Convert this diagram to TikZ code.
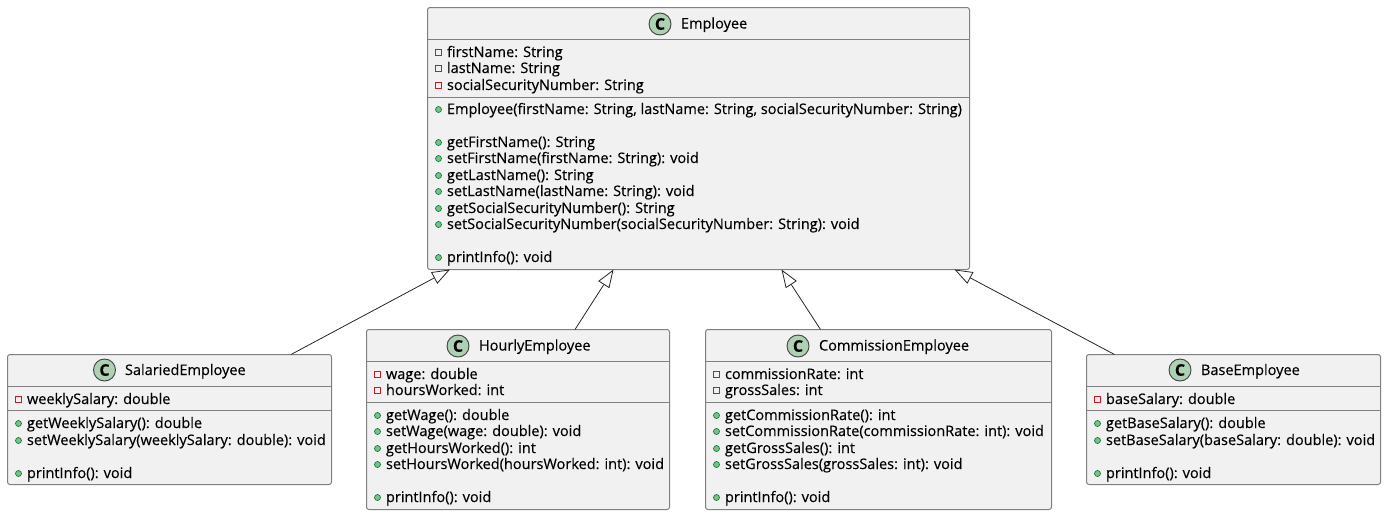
\documentclass[tikz,border=0pt]{standalone}
\usepackage{fontspec}
\setmainfont[RawFeature={embolden=0.35}]{Open Sans}
\usetikzlibrary{arrows.meta,calc}
\definecolor{boxfill}{HTML}{F1F1F1}
\definecolor{boxline}{HTML}{808080}
\definecolor{iconfill}{HTML}{ADD1B2}
\definecolor{pubfill}{HTML}{84BE84}
\definecolor{publine}{HTML}{038048}
\definecolor{privline}{HTML}{D01822}
\newcount\rowcnt
\tikzset{
  classbox/.style={draw=boxline,fill=boxfill,line width=1pt,rounded corners=2.5pt,inner sep=0pt,outer sep=0pt,rectangle},
  sepline/.style={draw=boxline,line width=1pt},
  member/.style={anchor=base west,inner sep=0pt,outer sep=0pt,font=\fontsize{14.52}{16}\selectfont,text=black},
  title/.style={anchor=base west,inner sep=0pt,outer sep=0pt,font=\fontsize{14.52}{16}\selectfont,text=black},
  cicon/.style={circle,draw=black!75,fill=iconfill,line width=0.9pt,minimum size=22pt,inner sep=0pt,outer sep=0pt,font=\fontsize{16}{16}\selectfont\bfseries},
  extends/.style={draw=black!85,line width=0.8pt,{Triangle[open,length=18pt,width=13pt,fill=white]}-},
}
\newcommand{\classbox}[7]{% name x1 y1 x2 y2 sep1 sep2
  \node[classbox,minimum width=#4pt-#2pt,minimum height=#5pt-#3pt] (#1) at ({(#2+#4)/2},{(#3+#5)/2}) {};
  \draw[sepline] ($(#1.north west)+(0,#6-#3)$) -- ($(#1.north east)+(0,#6-#3)$);
  \draw[sepline] ($(#1.north west)+(0,#7-#3)$) -- ($(#1.north east)+(0,#7-#3)$);
}
\newcommand{\priv}[3]{% iconx y text
  \draw[privline,line width=1.3pt] (#1-2.8,#2-2.3) rectangle (#1+2.8,#2+3.3);
  \global\advance\rowcnt by 1
  \node[member] (t\the\rowcnt) at (#1+8.5,#2+5) {#3};
}
\newcommand{\publ}[3]{%
  \fill[pubfill,draw=publine,line width=0.7pt] (#1,#2+0.5) circle (3);
  \global\advance\rowcnt by 1
  \node[member] (t\the\rowcnt) at (#1+8.5,#2+5) {#3};
}
\begin{document}
\begin{tikzpicture}[x=1pt,y=-1pt]
\useasboundingbox (0,0) rectangle (1386,515);
% boxes
\classbox{emp}{427.5}{7.5}{969.5}{269.5}{39.5}{97}
\classbox{sal}{7.5}{354.5}{331.5}{484.5}{386.5}{410.5}
\classbox{hou}{366.5}{329.5}{669.5}{509.5}{361.5}{402}
\classbox{com}{705.5}{329.5}{1051.5}{509.5}{361.5}{402}
\classbox{bas}{1086.5}{354.5}{1380.5}{484.5}{386.5}{410.5}
% headers
\node[cicon] (empC) at (660,24) {C};
\node[title] (empT) at (681,28.5) {Employee};
\node[cicon] (salC) at (104.5,370) {C};
\node[title] (salT) at (125,375) {SalariedEmployee};
\node[cicon] (houC) at (458,346) {C};
\node[title] (houT) at (479,350.5) {HourlyEmployee};
\node[cicon] (comC) at (798,346) {C};
\node[title] (comT) at (819,350.5) {CommissionEmployee};
\node[cicon] (basC) at (1180,370) {C};
\node[title] (basT) at (1201,375) {BaseEmployee};
% Employee
\priv{438.5}{52}{firstName: String}
\priv{438.5}{68}{lastName: String}
\priv{438.5}{85}{socialSecurityNumber: String}
\publ{438.5}{109}{Employee(firstName: String, lastName: String, socialSecurityNumber: String)}
\publ{438.5}{142}{getFirstName(): String}
\publ{438.5}{158}{setFirstName(firstName: String): void}
\publ{438.5}{175}{getLastName(): String}
\publ{438.5}{191}{setLastName(lastName: String): void}
\publ{438.5}{208}{getSocialSecurityNumber(): String}
\publ{438.5}{224}{setSocialSecurityNumber(socialSecurityNumber: String): void}
\publ{438.5}{257}{printInfo(): void}
% Salaried
\priv{18.5}{399}{weeklySalary: double}
\publ{18.5}{423}{getWeeklySalary(): double}
\publ{18.5}{440}{setWeeklySalary(weeklySalary: double): void}
\publ{18.5}{473}{printInfo(): void}
% Hourly
\priv{377.5}{374}{wage: double}
\priv{377.5}{390}{hoursWorked: int}
\publ{377.5}{415}{getWage(): double}
\publ{377.5}{431}{setWage(wage: double): void}
\publ{377.5}{448}{getHoursWorked(): int}
\publ{377.5}{464}{setHoursWorked(hoursWorked: int): void}
\publ{377.5}{497}{printInfo(): void}
% Commission
\priv{716.5}{374}{commissionRate: int}
\priv{716.5}{390}{grossSales: int}
\publ{716.5}{415}{getCommissionRate(): int}
\publ{716.5}{431}{setCommissionRate(commissionRate: int): void}
\publ{716.5}{448}{getGrossSales(): int}
\publ{716.5}{464}{setGrossSales(grossSales: int): void}
\publ{716.5}{497}{printInfo(): void}
% Base
\priv{1097.5}{399}{baseSalary: double}
\publ{1097.5}{423}{getBaseSalary(): double}
\publ{1097.5}{440}{setBaseSalary(baseSalary: double): void}
\publ{1097.5}{473}{printInfo(): void}
% connectors
\draw[extends] ($(emp.south west)+(22.5,0)$) -- ($(sal.north west)+(283.5,0)$);
\draw[extends] ($(emp.south west)+(186,0)$) -- ($(hou.north west)+(208.5,0)$);
\draw[extends] ($(emp.south west)+(354,0)$) -- ($(com.north west)+(115,0)$);
\draw[extends] ($(emp.south west)+(527,0)$) -- ($(bas.north west)+(28,0)$);
\end{tikzpicture}
\end{document}
